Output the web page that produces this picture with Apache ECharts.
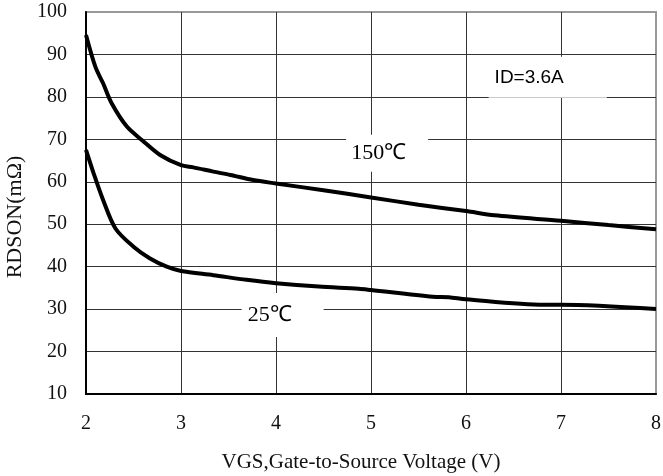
<!DOCTYPE html>
<html>
<head>
<meta charset="utf-8">
<script src="https://cdn.jsdelivr.net/npm/echarts@6/dist/echarts.min.js"></script>
<style>html,body{margin:0;padding:0;background:#fff}#c{width:663px;height:476px}</style>
</head>
<body>
<div id="c"></div>
<script>
const vgs150 = [2.0, 2.1, 2.18, 2.27, 2.43, 2.59, 2.78, 3.0, 3.13, 3.34, 3.52, 3.76, 4.0, 4.5, 5.0, 5.5, 6.0, 6.3, 7.0, 7.5, 8.0];
const rds150 = [94.6, 87.0, 83.2, 78.5, 73.0, 69.8, 66.3, 63.9, 63.4, 62.4, 61.6, 60.4, 59.6, 58.0, 56.3, 54.6, 53.1, 52.1, 50.8, 49.8, 48.8];
const vgs25 = [2.0, 2.08, 2.18, 2.31, 2.5, 2.67, 2.85, 3.0, 3.34, 3.69, 4.0, 4.45, 4.87, 5.0, 5.65, 5.82, 6.0, 6.82, 7.0, 8.0];
const rds25 = [67.5, 62.0, 55.7, 49.0, 44.7, 42.0, 40.0, 39.0, 38.0, 36.9, 36.1, 35.3, 34.8, 34.5, 32.9, 32.8, 32.3, 31.0, 31.0, 30.0];
const xTicks = [2, 3, 4, 5, 6, 7, 8];
const yTicks = [10, 20, 30, 40, 50, 60, 70, 80, 90, 100];
const labelTexts = ['150℃', '25℃', 'ID=3.6A'];
const labelX = [5.17, 4.07, 6.86];
const labelY = [66.7, 28.6, 84.6];

const serif = '"Liberation Serif", "Times New Roman", serif';
const sans = '"Liberation Sans", Arial, sans-serif';
const pair = (xs, ys) => xs.map((x, i) => [x, ys[i]]);

const labelStyles = [
  {padding: [7, 22, 8, 5], fontFamily: serif, fontSize: 22},
  {padding: [9, 32, 13, 6], fontFamily: serif, fontSize: 22},
  {padding: [6, 43, 16, 6], fontFamily: sans, fontSize: 19}
];

const chart = echarts.init(document.getElementById('c'), null, {renderer: 'canvas'});
chart.setOption({
  animation: false,
  backgroundColor: '#fff',
  grid: {left: 86, right: 7, top: 12, bottom: 82, containLabel: false, outerBoundsMode: 'none',
         show: true, borderColor: '#999', borderWidth: 2, backgroundColor: 'transparent'},
  xAxis: {
    type: 'value', min: xTicks[0], max: xTicks[xTicks.length - 1], interval: 1,
    name: 'VGS,Gate-to-Source Voltage (V)', nameLocation: 'middle', nameGap: 58,
    nameTextStyle: {fontFamily: serif, fontSize: 21, color: '#111', padding: [0, 20, 0, 0]},
    axisLine: {lineStyle: {color: '#000', width: 2}},
    axisTick: {show: false},
    axisLabel: {fontFamily: serif, fontSize: 20, color: '#111', margin: 20},
    splitLine: {show: true, lineStyle: {color: ['#333', '#333', '#333', '#333', '#333', '#333', 'transparent'], width: 1}}
  },
  yAxis: {
    type: 'value', min: yTicks[0], max: yTicks[yTicks.length - 1], interval: 10,
    name: 'RDSON(mΩ)', nameLocation: 'middle', nameGap: 52, nameRotate: 90,
    nameTextStyle: {fontFamily: serif, fontSize: 22, color: '#111', padding: [0, 0, 0, -28]},
    axisLine: {lineStyle: {color: '#000', width: 2}},
    axisTick: {show: false},
    axisLabel: {fontFamily: serif, fontSize: 20, color: '#111', margin: 19},
    splitLine: {show: true, lineStyle: {color: ['#333', '#333', '#333', '#333', '#333', '#333', '#333', '#333', '#333', 'transparent'], width: 1}}
  },
  series: [
    {
      type: 'scatter', symbolSize: 0, z: 3, silent: true,
      itemStyle: {color: '#000'},
      data: labelTexts.map((t, i) => ({
        name: t, value: [labelX[i], labelY[i]],
        label: Object.assign({}, labelStyles[i])
      })),
      label: {
        show: true, position: 'inside', formatter: p => p.name,
        color: '#000', backgroundColor: '#fff', textBorderWidth: 0, opacity: 1
      }
    },
    {type: 'line', data: pair(vgs150, rds150), smooth: 0.3, symbol: 'none', z: 5,
     lineStyle: {color: '#000', width: 4}},
    {type: 'line', data: pair(vgs25, rds25), smooth: 0.3, symbol: 'none', z: 5,
     lineStyle: {color: '#000', width: 4}}
  ]
});
</script>
</body>
</html>
